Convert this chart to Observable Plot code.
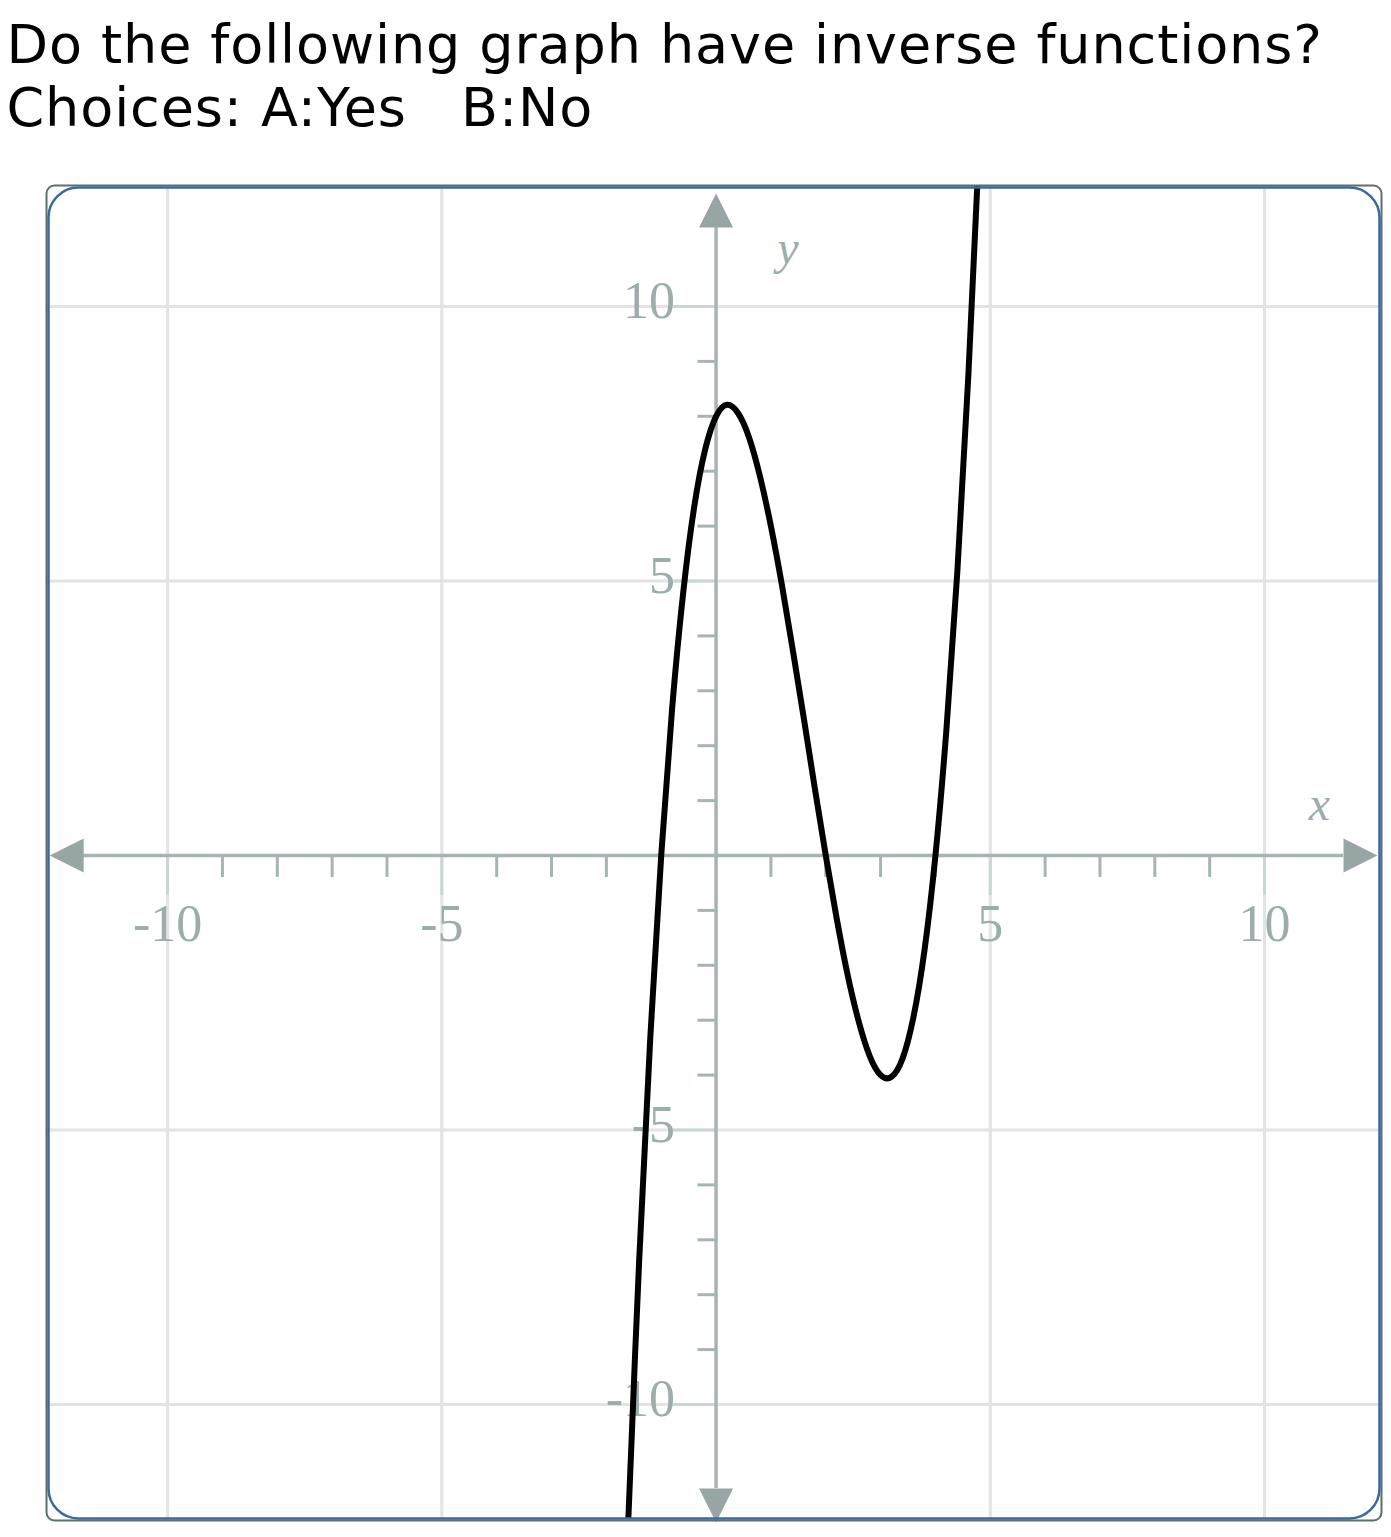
<!DOCTYPE html>
<html>
<head>
<meta charset="utf-8">
<script src="https://cdn.jsdelivr.net/npm/d3@7"></script>
<script src="https://cdn.jsdelivr.net/npm/@observablehq/plot@0.6"></script>
<style>
  body { margin: 0; background: #fff; }
  #title {
    font-family: "DejaVu Sans", sans-serif;
    font-size: 54px;
    line-height: 63px;
    letter-spacing: 0.9px;
    color: #000;
    padding: 12.5px 0 0 6.5px;
    height: 137.5px;
    white-space: nowrap;
    overflow: hidden;
  }
  #chart svg { display: block; }
</style>
</head>
<body>
<div id="title">
  <div>Do the following graph have inverse functions?</div>
  <div>Choices: A:Yes&nbsp;&nbsp;&nbsp;B:No</div>
</div>
<div id="chart"></div>
<script>
// ---- data ----
const curveX = [-1.7, -1.6, -1.4, -1.2, -1.0, -0.8, -0.6, -0.4, -0.2, 0, 0.2, 0.4, 0.6, 0.8, 1.0, 1.2, 1.4, 1.6, 1.8, 2.0, 2.2, 2.4, 2.6, 2.8, 3.0, 3.2, 3.4, 3.6, 3.8, 4.0, 4.2, 4.4, 4.6, 4.8];
const curveY = [-14.76, -12.10, -7.34, -3.33, 0, 2.69, 4.78, 6.34, 7.39, 8.0, 8.21, 8.06, 7.62, 6.91, 6.0, 4.93, 3.74, 2.50, 1.23, 0, -1.15, -2.18, -3.02, -3.65, -4.0, -4.03, -3.70, -2.94, -1.73, 0, 2.29, 5.18, 8.74, 12.99];

const xDomain = [-12.19, 12.115];
const yDomain = [-12.095, 12.186];
const gridValues = [-10, -5, 5, 10];
const minorTicks = [-9, -8, -7, -6, -4, -3, -2, -1, 1, 2, 3, 4, 6, 7, 8, 9];
const tickLabels = ["-10", "-5", "5", "10"];
const axisStart = -11.53;   // arrow base on negative side
const axisEnd = 11.44;      // arrow base on positive side
const arrowHeads = [
  {x: axisEnd, y: 0, rotate: 90},
  {x: axisStart, y: 0, rotate: 270},
  {x: 0, y: axisEnd, rotate: 0},
  {x: 0, y: axisStart, rotate: 180}
];
const axisNames = [
  {name: "x", x: 11.0, y: 0.92},
  {name: "y", x: 1.31, y: 11.05}
];

const curveData = curveX.map((x, i) => ({x, y: curveY[i]}));

// colours
const gridColor = "#e3e3e3";
const axisColor = "#a6b5b4";
const arrowColor = "#97a6a4";
const labelColor = "#9dadac";
const serif = "'Liberation Serif', 'DejaVu Serif', serif";

// custom arrowhead symbol: base centred on the anchor, tip pointing up
const arrowSymbol = {
  draw(context, size) {
    const r = Math.sqrt(size / Math.PI);
    context.moveTo(0, -2 * r);
    context.lineTo(r, 0);
    context.lineTo(-r, 0);
    context.closePath();
  }
};

const chart = Plot.plot({
  width: 1391,
  height: 1387,
  marginLeft: 47,
  marginRight: 11,
  marginTop: 36,
  marginBottom: 18,
  x: {domain: xDomain, axis: null},
  y: {domain: yDomain, axis: null},
  style: {background: "#fff", overflow: "visible"},
  marks: [
    // grid
    Plot.ruleX(gridValues, {x: d => d, stroke: gridColor, strokeWidth: 3}),
    Plot.ruleY(gridValues, {y: d => d, stroke: gridColor, strokeWidth: 3}),
    // major ticks near the axes
    Plot.ruleX(gridValues, {x: d => d, y1: 0, y2: -0.73, stroke: "#ccd5d5", strokeWidth: 3}),
    Plot.ruleY(gridValues, {y: d => d, x1: -0.77, x2: 0, stroke: "#ccd5d5", strokeWidth: 3}),
    // minor ticks
    Plot.ruleX(minorTicks, {x: d => d, y1: 0, y2: -0.4, stroke: axisColor, strokeWidth: 3}),
    Plot.ruleY(minorTicks, {y: d => d, x1: -0.33, x2: 0, stroke: axisColor, strokeWidth: 3}),
    // axes
    Plot.ruleY([0], {x1: axisStart, x2: axisEnd, stroke: axisColor, strokeWidth: 3.5}),
    Plot.ruleX([0], {y1: axisStart, y2: axisEnd, stroke: axisColor, strokeWidth: 3.5}),
    // arrow heads
    Plot.dot(arrowHeads, {x: "x", y: "y", rotate: "rotate", symbol: arrowSymbol, r: 17, fill: arrowColor, stroke: "none"}),
    // tick labels
    Plot.text(gridValues, {x: d => d, y: 0, text: (d, i) => tickLabels[i], dy: 69, textAnchor: "middle", fontFamily: serif, fontSize: 52, fill: labelColor}),
    Plot.text(gridValues, {x: 0, y: d => d, text: (d, i) => tickLabels[i], dx: -41, dy: -5, textAnchor: "end", fontFamily: serif, fontSize: 52, fill: labelColor}),
    // axis names
    Plot.text(axisNames, {x: "x", y: "y", text: "name", fontFamily: serif, fontStyle: "italic", fontSize: 48, fill: labelColor}),
    // the curve
    Plot.line(curveData, {x: "x", y: "y", curve: "natural", stroke: "#000", strokeWidth: 6, strokeLinejoin: "round", clip: true}),
    // frames
    Plot.frame({stroke: "#5f6d6d", strokeWidth: 2, inset: -1, rx: 8}),
    Plot.frame({stroke: "#3b6a9e", strokeWidth: 2.5, inset: 1, rx: 30})
  ]
});
document.getElementById("chart").appendChild(chart);
</script>
</body>
</html>
